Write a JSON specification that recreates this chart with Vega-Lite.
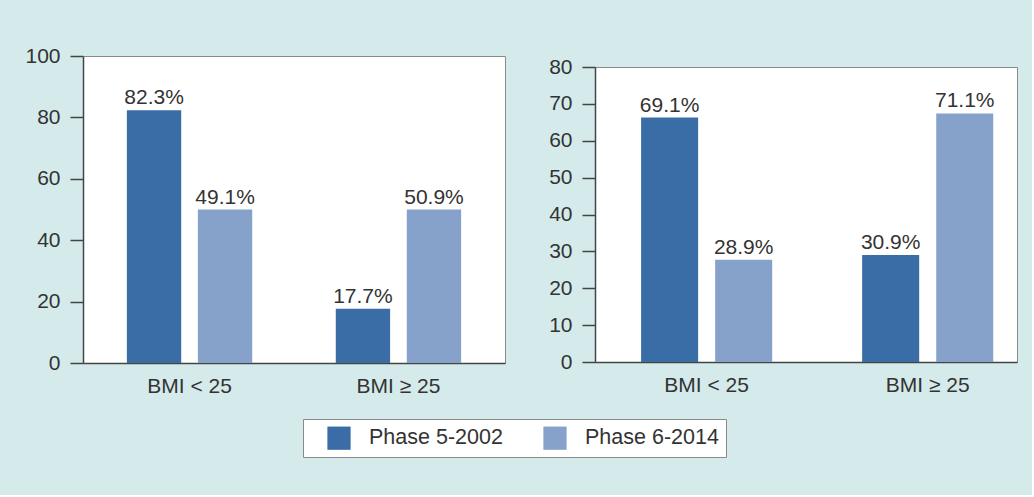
{
  "$schema": "https://vega.github.io/schema/vega-lite/v6.json",
  "background": "#d5ebeb",
  "padding": {"left": 24, "top": 44, "right": 14, "bottom": 37},
  "config": {
    "font": "Liberation Sans",
    "view": {"stroke": "#8a8a8a", "strokeWidth": 1, "fill": "white"},
    "axisY": {"domainColor": "#444444", "domainWidth": 1.5, "tickColor": "#444444", "tickWidth": 1.5, "tickSize": 13, "labelFontSize": 21, "labelColor": "#333333", "labelPadding": 10, "grid": false, "title": null},
    "axisX": {"domainColor": "#444444", "domainWidth": 1.5, "ticks": false, "tickSize": 0, "labelFontSize": 21, "labelColor": "#333333", "labelPadding": 12, "labelAngle": 0, "title": null}
  },
  "datasets": {
    "leftData": [
      {"group": "BMI < 25", "phase": "Phase 5-2002", "value": 82.3, "label": "82.3%"},
      {"group": "BMI < 25", "phase": "Phase 6-2014", "value": 50.0, "label": "49.1%"},
      {"group": "BMI ≥ 25", "phase": "Phase 5-2002", "value": 17.7, "label": "17.7%"},
      {"group": "BMI ≥ 25", "phase": "Phase 6-2014", "value": 50.0, "label": "50.9%"}
    ],
    "rightData": [
      {"group": "BMI < 25", "phase": "Phase 5-2002", "value": 66.3, "label": "69.1%"},
      {"group": "BMI < 25", "phase": "Phase 6-2014", "value": 27.7, "label": "28.9%"},
      {"group": "BMI ≥ 25", "phase": "Phase 5-2002", "value": 29.0, "label": "30.9%"},
      {"group": "BMI ≥ 25", "phase": "Phase 6-2014", "value": 67.4, "label": "71.1%"}
    ]
  },
  "spacing": 42,
  "resolve": {"scale": {"x": "independent", "xOffset": "independent", "y": "independent"}},
  "hconcat": [
    {
      "width": 422,
      "height": 307,
      "data": {"name": "leftData"},
      "encoding": {
        "x": {"field": "group", "type": "nominal", "sort": null, "scale": {"paddingInner": 0.4, "paddingOuter": 0.21}},
        "xOffset": {"field": "phase", "type": "nominal", "scale": {"paddingInner": 0.235, "paddingOuter": 0}},
        "y": {"field": "value", "type": "quantitative", "scale": {"domain": [0, 100], "nice": false}, "axis": {"values": [0, 20, 40, 60, 80, 100]}}
      },
      "layer": [
        {
          "mark": {"type": "bar"},
          "encoding": {
            "color": {"field": "phase", "type": "nominal", "scale": {"domain": ["Phase 5-2002", "Phase 6-2014"], "range": ["#3a6ca5", "#86a2cb"]},
              "legend": {"orient": "none", "legendX": 220, "legendY": 363, "direction": "horizontal", "title": null, "fillColor": "white", "strokeColor": "#8a8a8a", "padding": 7, "symbolOffset": 17, "symbolType": "square", "symbolSize": 540, "symbolStrokeWidth": 0, "labelFontSize": 21.5, "labelColor": "#333333", "labelOffset": 18, "columnPadding": 23, "labelLimit": 300}}
          }
        },
        {
          "mark": {"type": "text", "baseline": "alphabetic", "dy": -6, "fontSize": 21, "color": "#333333"},
          "encoding": {"text": {"field": "label"}}
        }
      ]
    },
    {
      "spacing": -2,
      "vconcat": [
        {
          "width": 422,
          "height": 1,
          "view": {"fill": null, "stroke": null},
          "data": {"values": []},
          "mark": {"type": "point"}
        },
        {
          "width": 422,
          "height": 295,
          "data": {"name": "rightData"},
          "encoding": {
            "x": {"field": "group", "type": "nominal", "sort": null, "scale": {"paddingInner": 0.407, "paddingOuter": 0.158, "align": 0.66}},
            "xOffset": {"field": "phase", "type": "nominal", "scale": {"paddingInner": 0.23, "paddingOuter": 0}},
            "y": {"field": "value", "type": "quantitative", "scale": {"domain": [0, 80], "nice": false}, "axis": {"values": [0, 10, 20, 30, 40, 50, 60, 70, 80]}}
          },
          "layer": [
            {
              "mark": {"type": "bar"},
              "encoding": {
                "color": {"field": "phase", "type": "nominal", "scale": {"domain": ["Phase 5-2002", "Phase 6-2014"], "range": ["#3a6ca5", "#86a2cb"]}}
              }
            },
            {
              "mark": {"type": "text", "baseline": "alphabetic", "dy": -6, "fontSize": 21, "color": "#333333"},
              "encoding": {"text": {"field": "label"}}
            }
          ]
        }
      ]
    }
  ]
}
